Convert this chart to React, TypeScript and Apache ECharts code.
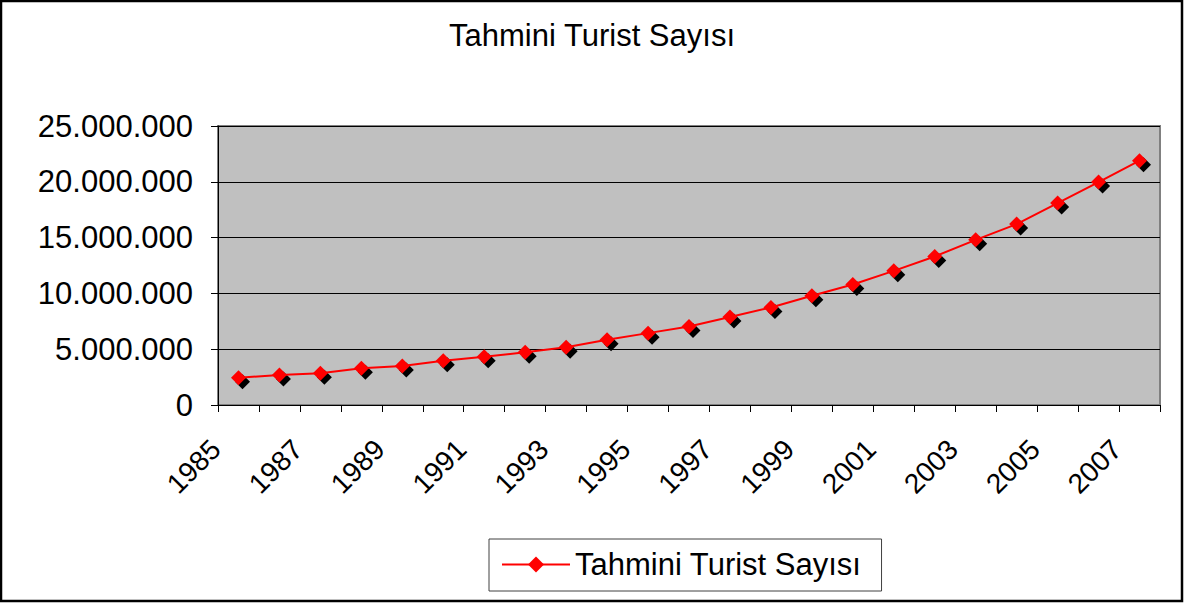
import React, { useEffect, useRef } from "react";
import * as echarts from "echarts";

const title = "Tahmini Turist Sayısı";
const seriesName = "Tahmini Turist Sayısı";
const years = [
  "1985", "1986", "1987", "1988", "1989", "1990", "1991", "1992", "1993", "1994", "1995", "1996",
  "1997", "1998", "1999", "2000", "2001", "2002", "2003", "2004", "2005", "2006", "2007",
];
const visitors = [
  2450000, 2690000, 2840000, 3290000, 3490000, 3970000, 4330000, 4720000, 5170000, 5840000,
  6440000, 7040000, 7880000, 8740000, 9790000, 10800000, 12020000, 13310000, 14800000,
  16210000, 18090000, 19980000, 21890000,
];
const yMin = 0;
const yMax = 25000000;
const yStep = 5000000;

const fmt = (v: number) => String(Math.round(v)).replace(/\B(?=(\d{3})+(?!\d))/g, ".");

export default function App() {
  const ref = useRef<HTMLDivElement>(null);
  useEffect(() => {
    document.body.style.margin = "0";
    const chart = echarts.init(ref.current!, null, { renderer: "svg" });
    const font = "Liberation Sans, Arial, sans-serif";
    chart.setOption({
      animation: false,
      backgroundColor: "#ffffff",
      textStyle: { fontFamily: font },
      title: {
        text: title,
        left: "center",
        top: 20,
        padding: 0,
        textStyle: { fontFamily: font, fontSize: 31, fontWeight: "normal", color: "#000" },
      },
      legend: {
        data: [seriesName],
        left: 489,
        top: 539,
        itemWidth: 68,
        itemHeight: 20,
        padding: [10, 20, 11, 12],
        borderColor: "#404040",
        borderWidth: 1,
        textStyle: { fontFamily: font, fontSize: 31, color: "#000" },
      },
      grid: {
        left: 218,
        right: 24,
        top: 126,
        bottom: 200,
        show: true,
        backgroundColor: "#C0C0C0",
        borderColor: "#808080",
        borderWidth: 2,
      },
      xAxis: {
        type: "category",
        data: years,
        boundaryGap: true,
        axisLine: { show: true, lineStyle: { color: "#000", width: 1 } },
        axisTick: { show: true, interval: 0, length: 7, lineStyle: { color: "#000" } },
        axisLabel: {
          interval: 1,
          rotate: 45,
          margin: 17,
          padding: [0, 32, 0, 0],
          fontFamily: font,
          fontSize: 28,
          color: "#000",
        },
        splitLine: { show: false },
      },
      yAxis: {
        type: "value",
        min: yMin,
        max: yMax,
        interval: yStep,
        axisLine: { show: true, lineStyle: { color: "#000", width: 1 } },
        axisTick: { show: true, length: 7, lineStyle: { color: "#000" } },
        axisLabel: {
          margin: 25,
          fontFamily: font,
          fontSize: 31,
          color: "#000",
          formatter: (v: number) => fmt(v),
        },
        splitLine: { show: true, lineStyle: { color: "#000", width: 1 } },
      },
      series: [
        {
          name: "shadow",
          type: "line",
          data: visitors,
          symbol: "diamond",
          symbolSize: 15,
          symbolOffset: [4, 4],
          showSymbol: true,
          lineStyle: { opacity: 0, width: 0 },
          itemStyle: { color: "#000" },
          z: 2,
          silent: true,
        },
        {
          name: seriesName,
          type: "line",
          data: visitors,
          symbol: "diamond",
          symbolSize: 15,
          showSymbol: true,
          lineStyle: { color: "#ff0000", width: 2 },
          itemStyle: { color: "#ff0000" },
          z: 3,
        },
      ],
      graphic: [
        {
          type: "rect",
          shape: { x: 1, y: 1, width: 1181, height: 600 },
          style: { fill: "none", stroke: "#000", lineWidth: 2.5 },
          z: 100,
        },
      ],
    });
    return () => chart.dispose();
  }, []);
  return <div ref={ref} style={{ position: "absolute", left: 0, top: 0, width: 1184, height: 605 }} />;
}
